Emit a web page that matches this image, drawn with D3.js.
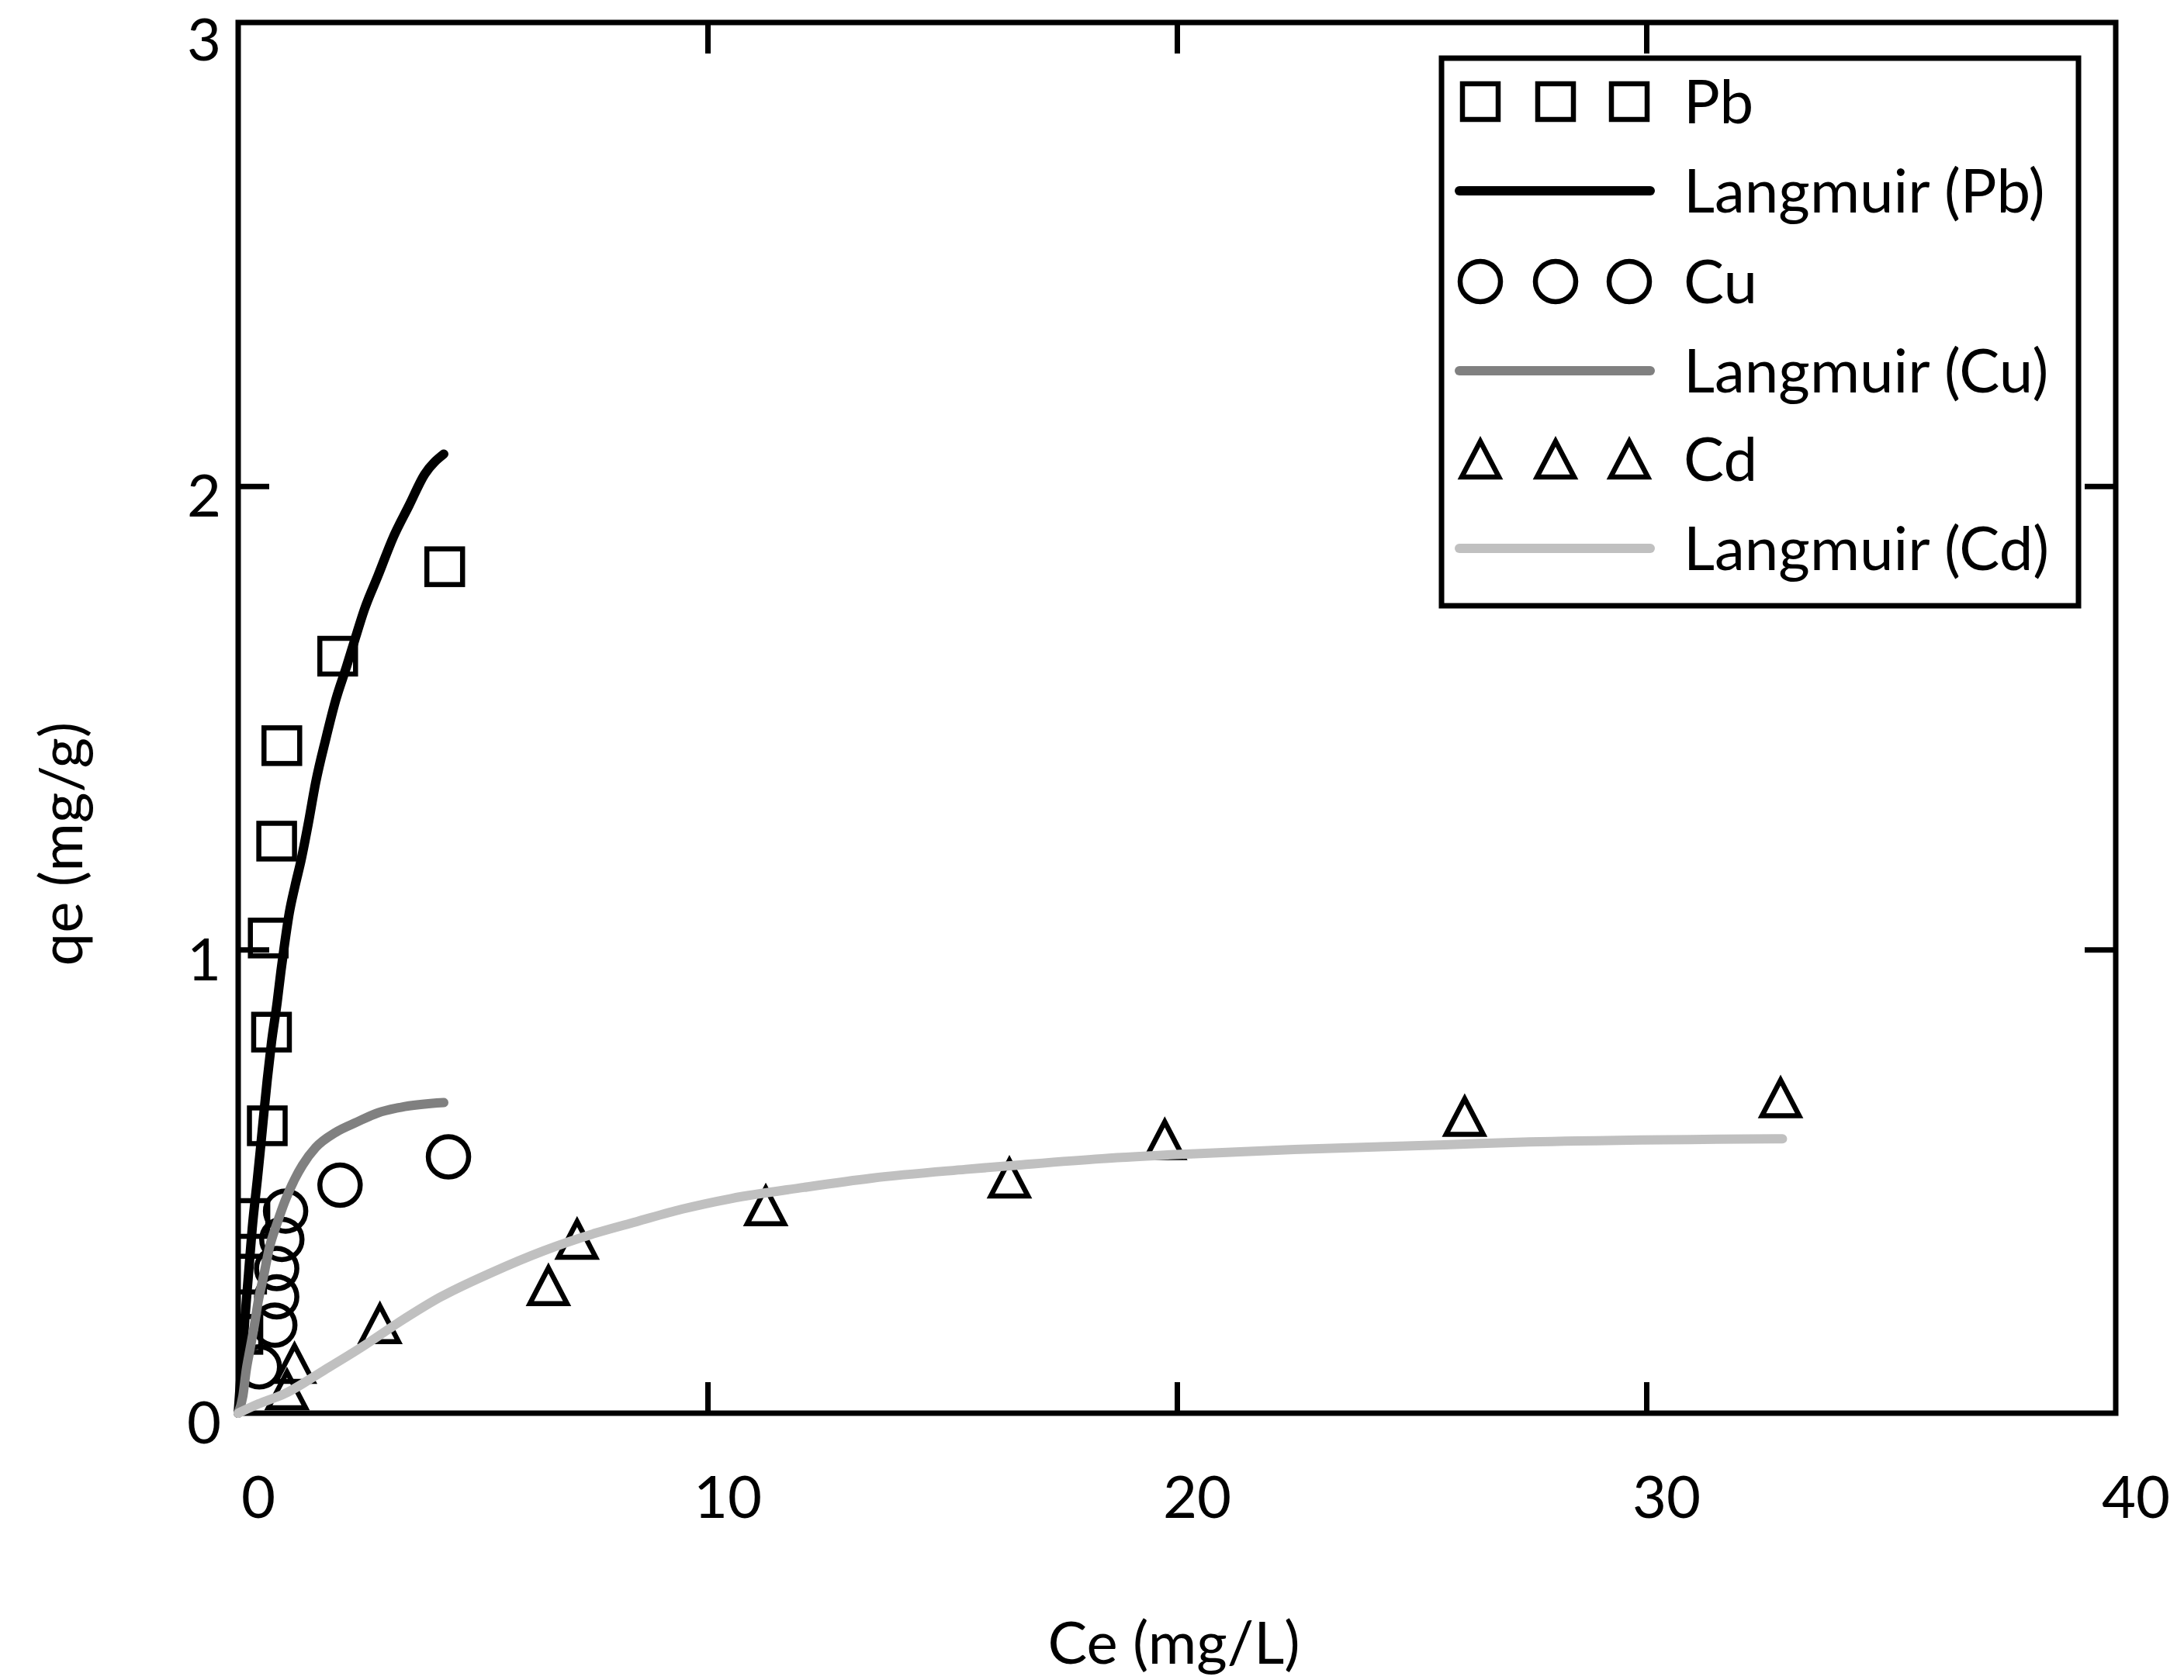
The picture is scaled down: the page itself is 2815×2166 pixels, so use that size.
<!DOCTYPE html>
<html><head><meta charset="utf-8">
<script src="https://cdn.jsdelivr.net/npm/d3@7"></script>
<style>html,body{margin:0;padding:0;background:#fff}svg{display:block}</style>
</head><body>
<script>
// ---- data ----
const xTicks = [0, 10, 20, 30, 40];
const yTicks = [0, 1, 2, 3];
const xLabel = "Ce (mg/L)";
const yLabel = "qe (mg/g)";
const legendLabels = ["Pb", "Langmuir (Pb)", "Cu", "Langmuir (Cu)", "Cd", "Langmuir (Cd)"];

const pbCe = [4.40, 2.12, 0.93, 0.82, 0.64, 0.71, 0.62, 0.25, 0.18, 0.10];
const pbQe = [1.826, 1.633, 1.44, 1.234, 1.025, 0.822, 0.62, 0.42, 0.30, 0.17];
const cuCe = [4.48, 2.17, 1.01, 0.93, 0.82, 0.82, 0.78, 0.45];
const cuQe = [0.553, 0.492, 0.436, 0.375, 0.312, 0.251, 0.19, 0.10];
const cdCe = [32.86, 26.13, 19.74, 16.43, 11.24, 7.22, 6.61, 3.02, 1.20, 1.04];
const cdQe = [0.680, 0.640, 0.590, 0.507, 0.447, 0.375, 0.275, 0.193, 0.107, 0.05];

const pbFitCe = [0, 0.07, 0.14, 0.22, 0.30, 0.41, 0.47, 0.55, 0.62, 0.71, 0.83, 0.91, 0.99, 1.09, 1.21, 1.34, 1.49, 1.65, 1.87, 2.08, 2.31, 2.48, 2.69, 2.98, 3.31, 3.64, 3.97, 4.38];
const pbFitQe = [0, 0.10, 0.20, 0.30, 0.40, 0.506, 0.566, 0.65, 0.72, 0.80, 0.886, 0.953, 1.013, 1.080, 1.137, 1.193, 1.27, 1.36, 1.456, 1.539, 1.611, 1.667, 1.734, 1.807, 1.891, 1.958, 2.025, 2.069];
const cuFitCe = [0, 0.10, 0.17, 0.25, 0.35, 0.43, 0.55, 0.66, 0.83, 0.99, 1.21, 1.37, 1.65, 2.08, 2.53, 2.98, 3.47, 4.38];
const cuFitQe = [0, 0.037, 0.092, 0.137, 0.193, 0.243, 0.30, 0.355, 0.41, 0.456, 0.506, 0.535, 0.573, 0.606, 0.628, 0.648, 0.660, 0.670];
const cdFitCe = [0, 0.43, 0.99, 1.82, 2.64, 3.47, 4.30, 5.39, 6.50, 7.60, 8.48, 9.45, 10.5, 12.05, 13.5, 15.5, 16.7, 18.4, 20.2, 22.5, 25.7, 27.5, 32.9];
const cdFitQe = [0, 0.02, 0.042, 0.092, 0.143, 0.199, 0.25, 0.303, 0.350, 0.388, 0.413, 0.440, 0.463, 0.487, 0.507, 0.526, 0.536, 0.549, 0.559, 0.569, 0.579, 0.585, 0.592];

const colors = {pb: "#000000", cu: "#808080", cd: "#c0c0c0"};

// ---- drawing ----
const W = 2815, H = 2166;
const L = 307, R = 2727, T = 29, B = 1822;
const FONT = "Lato, 'Open Sans', sans-serif";
const FS = 76, LFS = 78;

const svg = d3.select("body").append("svg").attr("width", W).attr("height", H)
  .style("font-family", FONT);

const x = d3.scaleLinear().domain([0, 40]).range([L, R]);
const y = d3.scaleLinear().domain([0, 3]).range([B, T]);

// ticks (inward, mirrored)
const tickLen = 40, axW = 7;
function styleAxis(g) {
  g.select(".domain").remove();
  g.selectAll("text").remove();
  g.selectAll("line").attr("stroke", "#000").attr("stroke-width", axW);
}
const innerX = [10, 20, 30], innerY = [1, 2];
svg.append("g").attr("transform", `translate(0,${B})`)
  .call(d3.axisBottom(x).tickValues(innerX).tickSize(-tickLen)).call(styleAxis);
svg.append("g").attr("transform", `translate(0,${T})`)
  .call(d3.axisTop(x).tickValues(innerX).tickSize(-tickLen)).call(styleAxis);
svg.append("g").attr("transform", `translate(${L},0)`)
  .call(d3.axisLeft(y).tickValues(innerY).tickSize(-tickLen)).call(styleAxis);
svg.append("g").attr("transform", `translate(${R},0)`)
  .call(d3.axisRight(y).tickValues(innerY).tickSize(-tickLen)).call(styleAxis);

// tick labels
svg.append("g").selectAll("text").data(xTicks).join("text")
  .attr("x", d => x(d) + 26).attr("y", B + 135)
  .attr("text-anchor", "middle").attr("font-size", FS).attr("fill", "#000")
  .text(d => d);
svg.append("g").selectAll("text").data(yTicks).join("text")
  .attr("x", L - 22).attr("y", d => Math.max(y(d) + 12 + 0.36 * FS, 78))
  .attr("text-anchor", "end").attr("font-size", FS).attr("fill", "#000")
  .text(d => d);

// axis titles
svg.append("text").attr("x", (L + R) / 2 - 4).attr("y", 2145)
  .attr("text-anchor", "middle").attr("font-size", FS).text(xLabel);
svg.append("text").attr("transform", `translate(106,1088) rotate(-90)`)
  .attr("text-anchor", "middle").attr("font-size", FS).text(yLabel);

// clip for markers
svg.append("clipPath").attr("id", "plotclip").append("rect")
  .attr("x", L).attr("y", T).attr("width", R - L).attr("height", B - T);

// marker shapes
const SQ = 46, CR = 26, TW = 48, TH = 46, MS = 6.5;
function drawMarker(sel, shape) {
  if (shape === "square") {
    sel.append("rect").attr("x", -SQ / 2).attr("y", -SQ / 2).attr("width", SQ).attr("height", SQ);
  } else if (shape === "circle") {
    sel.append("circle").attr("r", CR);
  } else {
    sel.append("path").attr("d", `M0,${-TH / 2}L${TW / 2},${TH / 2}L${-TW / 2},${TH / 2}Z`)
      .attr("stroke-linejoin", "miter");
  }
  sel.attr("fill", "none").attr("stroke", "#000").attr("stroke-width", MS);
}

const series = [
  {ce: pbCe, qe: pbQe, fitCe: pbFitCe, fitQe: pbFitQe, shape: "square", color: colors.pb},
  {ce: cuCe, qe: cuQe, fitCe: cuFitCe, fitQe: cuFitQe, shape: "circle", color: colors.cu},
  {ce: cdCe, qe: cdQe, fitCe: cdFitCe, fitQe: cdFitQe, shape: "triangle", color: colors.cd}
];

const markerLayer = svg.append("g").attr("clip-path", "url(#plotclip)");
series.forEach(s => {
  s.ce.forEach((c, i) => {
    const g = markerLayer.append("g").attr("transform", `translate(${x(c)},${y(s.qe[i])})`);
    drawMarker(g, s.shape);
  });
});

// frame
svg.append("rect").attr("x", L).attr("y", T).attr("width", R - L).attr("height", B - T)
  .attr("fill", "none").attr("stroke", "#000").attr("stroke-width", axW);

// fitted lines
const line = d3.line().x(d => x(d[0])).y(d => y(d[1])).curve(d3.curveMonotoneX);
series.forEach(s => {
  svg.append("path").datum(s.fitCe.map((c, i) => [c, s.fitQe[i]]))
    .attr("d", line).attr("fill", "none").attr("stroke", s.color)
    .attr("stroke-width", 12).attr("stroke-linecap", "round").attr("stroke-linejoin", "round");
});

// legend
const LG = {x: 1858, y: 75, w: 821, h: 706};
const leg = svg.append("g");
leg.append("rect").attr("x", LG.x).attr("y", LG.y).attr("width", LG.w).attr("height", LG.h)
  .attr("fill", "#fff").attr("stroke", "#000").attr("stroke-width", axW);
const rowY = [131, 246, 363, 478, 592, 707];
const markerXs = [1908, 2005, 2100];
legendLabels.forEach((lab, i) => {
  const s = series[Math.floor(i / 2)];
  if (i % 2 === 0) {
    markerXs.forEach(mx => {
      const g = leg.append("g").attr("transform", `translate(${mx},${rowY[i]})`);
      drawMarker(g, s.shape);
    });
  } else {
    leg.append("line").attr("x1", 1881).attr("x2", 2127).attr("y1", rowY[i]).attr("y2", rowY[i])
      .attr("stroke", s.color).attr("stroke-width", 12).attr("stroke-linecap", "round");
  }
  leg.append("text").attr("x", 2170).attr("y", rowY[i]).attr("dy", "0.36em")
    .attr("font-size", LFS).attr("fill", "#000").text(lab);
});
</script>
</body></html>
